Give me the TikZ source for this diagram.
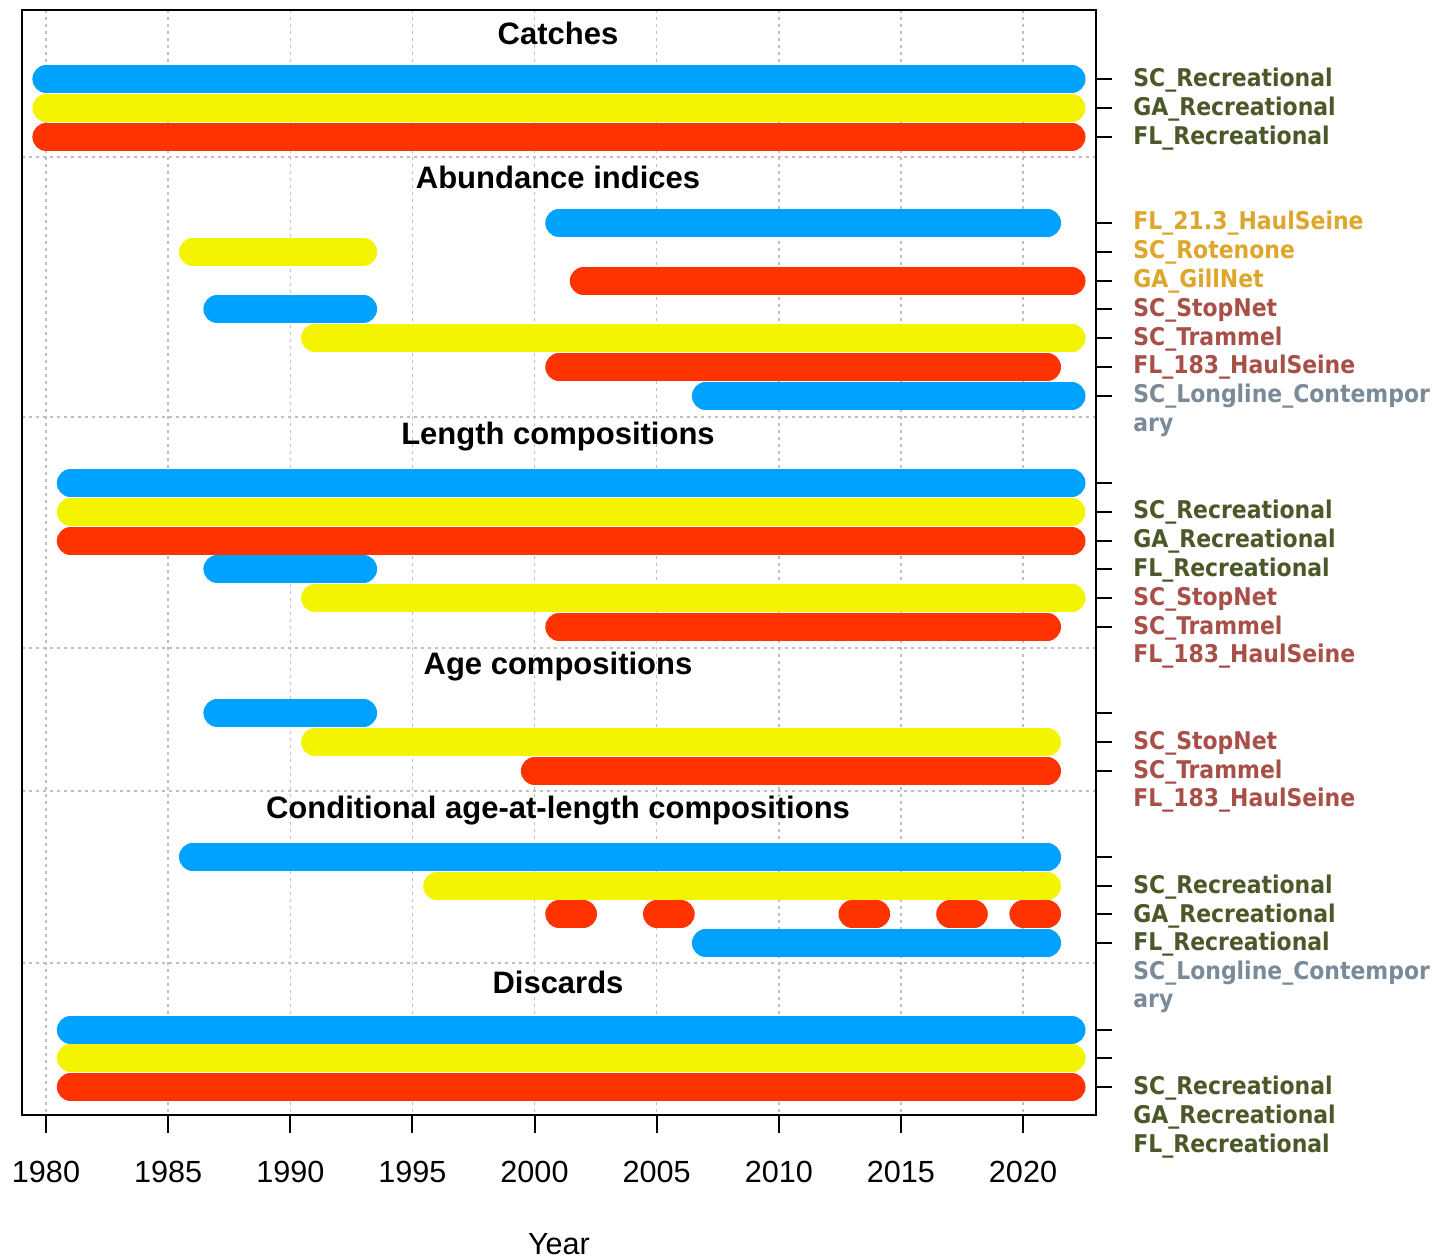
\documentclass[tikz,border=0pt]{standalone}
\usepackage{fontspec}
\setmainfont{Liberation Sans}
\newfontfamily\labfont{DejaVu Sans Condensed}
\definecolor{barblue}{RGB}{0,162,255}
\definecolor{baryel}{RGB}{244,244,0}
\definecolor{barred}{RGB}{255,51,0}
\definecolor{olive}{RGB}{76,88,40}
\definecolor{gold}{RGB}{222,166,44}
\definecolor{brick}{RGB}{168,80,72}
\definecolor{slate}{RGB}{122,138,153}

\begin{document}
\begin{tikzpicture}[x=0.5pt, y=-0.5pt,
    bar/.style = {line width=13.6pt, line cap=round},
    blu/.style = {bar, draw=barblue},
    yel/.style = {bar, draw=baryel},
    red/.style = {bar, draw=barred},
    grid/.style = {black!25, line width=0.7pt, dash pattern=on 1.5pt off 2pt},
    ttl/.style = {font=\fontsize{15.5}{18}\selectfont\bfseries, anchor=base, inner sep=0pt},
    lab/.style = {font=\labfont\fontsize{12.2}{14}\selectfont\bfseries, anchor=base west, inner sep=0pt},
    yr/.style = {font=\fontsize{15.3}{17}\selectfont, anchor=base, inner sep=0pt}]
\useasboundingbox (0,0) rectangle (1441,1258);

% grid
\draw[grid] (46,10) -- (46,1115) (168.1,10) -- (168.1,1115) (290.3,10) -- (290.3,1115)
  (412.4,10) -- (412.4,1115) (534.5,10) -- (534.5,1115) (656.6,10) -- (656.6,1115)
  (778.8,10) -- (778.8,1115) (900.9,10) -- (900.9,1115) (1023,10) -- (1023,1115);
\draw[grid] (22,157) -- (1096,157) (22,417) -- (1096,417) (22,648) -- (1096,648)
  (22,791) -- (1096,791) (22,963) -- (1096,963);

% catches
\draw[blu] (46,79) -- (1071.9,79);
\draw[yel] (46,108) -- (1071.9,108);
\draw[red] (46,137) -- (1071.9,137);
% abundance indices
\draw[blu] (558.9,223) -- (1047.4,223);
\draw[yel] (192.6,252) -- (363.5,252);
\draw[red] (583.4,281) -- (1071.9,281);
\draw[blu] (217,309) -- (363.5,309);
\draw[yel] (314.7,338) -- (1071.9,338);
\draw[red] (558.9,367) -- (1047.4,367);
\draw[blu] (705.5,396) -- (1071.9,396);
% length compositions
\draw[blu] (70.4,483) -- (1071.9,483);
\draw[yel] (70.4,512) -- (1071.9,512);
\draw[red] (70.4,541) -- (1071.9,541);
\draw[blu] (217,569) -- (363.5,569);
\draw[yel] (314.7,598) -- (1071.9,598);
\draw[red] (558.9,627) -- (1047.4,627);
% age compositions
\draw[blu] (217,713) -- (363.5,713);
\draw[yel] (314.7,742) -- (1047.4,742);
\draw[red] (534.5,771) -- (1047.4,771);
% conditional age-at-length
\draw[blu] (192.6,857) -- (1047.4,857);
\draw[yel] (436.8,886) -- (1047.4,886);
\draw[red] (558.9,914) -- (583.4,914);
\draw[red] (656.6,914) -- (681.1,914);
\draw[red] (852.1,914) -- (876.5,914);
\draw[red] (949.8,914) -- (974.2,914);
\draw[red] (1023,914) -- (1047.4,914);
\draw[blu] (705.5,943) -- (1047.4,943);
% discards
\draw[blu] (70.4,1030) -- (1071.9,1030);
\draw[yel] (70.4,1058) -- (1071.9,1058);
\draw[red] (70.4,1087) -- (1071.9,1087);

% frame and ticks
\draw[line width=1pt] (22,10) rectangle (1096,1115);
\draw[line width=1pt] (1096,79) -- (1112,79) (1096,108) -- (1112,108) (1096,137) -- (1112,137)
  (1096,223) -- (1112,223) (1096,252) -- (1112,252) (1096,281) -- (1112,281)
  (1096,309) -- (1112,309) (1096,338) -- (1112,338) (1096,367) -- (1112,367)
  (1096,396) -- (1112,396) (1096,483) -- (1112,483) (1096,512) -- (1112,512)
  (1096,541) -- (1112,541) (1096,569) -- (1112,569) (1096,598) -- (1112,598)
  (1096,627) -- (1112,627) (1096,713) -- (1112,713) (1096,742) -- (1112,742)
  (1096,771) -- (1112,771) (1096,857) -- (1112,857) (1096,886) -- (1112,886)
  (1096,914) -- (1112,914) (1096,943) -- (1112,943) (1096,1030) -- (1112,1030)
  (1096,1058) -- (1112,1058) (1096,1087) -- (1112,1087);
\draw[line width=1pt] (46,1115) -- (46,1133) (168.1,1115) -- (168.1,1133)
  (290.3,1115) -- (290.3,1133) (412.4,1115) -- (412.4,1133) (534.5,1115) -- (534.5,1133)
  (656.6,1115) -- (656.6,1133) (778.8,1115) -- (778.8,1133) (900.9,1115) -- (900.9,1133)
  (1023,1115) -- (1023,1133);

% section titles
\node[ttl] (catch) at (558,44) {Catches};
\node[ttl] (abund) at (558,188) {Abundance indices};
\node[ttl] (lencomp) at (558,444) {Length compositions};
\node[ttl] (agecomp) at (558,674) {Age compositions};
\node[ttl] (caal) at (558,818) {Conditional age-at-length compositions};
\node[ttl] (disc) at (558,993) {Discards};

% fleet labels
\node[lab, olive] (c1) at (1133,86.5) {SC\_Recreational};
\node[lab, olive] (c2) at (1133,115.5) {GA\_Recreational};
\node[lab, olive] (c3) at (1133,144.5) {FL\_Recreational};
\node[lab, gold] (a1) at (1133,229.5) {FL\_21.3\_HaulSeine};
\node[lab, gold] (a2) at (1133,258.5) {SC\_Rotenone};
\node[lab, gold] (a3) at (1133,287.5) {GA\_GillNet};
\node[lab, brick] (a4) at (1133,316.5) {SC\_StopNet};
\node[lab, brick] (a5) at (1133,345.5) {SC\_Trammel};
\node[lab, brick] (a6) at (1133,373.5) {FL\_183\_HaulSeine};
\node[lab, slate] (a7) at (1133,402.5) {SC\_Longline\_Contempor};
\node[lab, slate] (a7b) at (1133,431.5) {ary};
\node[lab, olive] (l1) at (1133,518.5) {SC\_Recreational};
\node[lab, olive] (l2) at (1133,547.5) {GA\_Recreational};
\node[lab, olive] (l3) at (1133,576.5) {FL\_Recreational};
\node[lab, brick] (l4) at (1133,605.5) {SC\_StopNet};
\node[lab, brick] (l5) at (1133,634.5) {SC\_Trammel};
\node[lab, brick] (l6) at (1133,662.5) {FL\_183\_HaulSeine};
\node[lab, brick] (g1) at (1133,749.5) {SC\_StopNet};
\node[lab, brick] (g2) at (1133,778.5) {SC\_Trammel};
\node[lab, brick] (g3) at (1133,806.5) {FL\_183\_HaulSeine};
\node[lab, olive] (k1) at (1133,893.5) {SC\_Recreational};
\node[lab, olive] (k2) at (1133,922.5) {GA\_Recreational};
\node[lab, olive] (k3) at (1133,950.5) {FL\_Recreational};
\node[lab, slate] (k4) at (1133,979.5) {SC\_Longline\_Contempor};
\node[lab, slate] (k4b) at (1133,1007.5) {ary};
\node[lab, olive] (d1) at (1133,1094.5) {SC\_Recreational};
\node[lab, olive] (d2) at (1133,1123.5) {GA\_Recreational};
\node[lab, olive] (d3) at (1133,1152.5) {FL\_Recreational};

% year axis
\node[yr] (y1980) at (46,1182) {1980};
\node[yr] (y1985) at (168.1,1182) {1985};
\node[yr] (y1990) at (290.3,1182) {1990};
\node[yr] (y1995) at (412.4,1182) {1995};
\node[yr] (y2000) at (534.5,1182) {2000};
\node[yr] (y2005) at (656.6,1182) {2005};
\node[yr] (y2010) at (778.8,1182) {2010};
\node[yr] (y2015) at (900.9,1182) {2015};
\node[yr] (y2020) at (1023,1182) {2020};
\node[yr, font=\fontsize{15.3}{17}\selectfont] (xlab) at (559,1254) {Year};
\end{tikzpicture}
\end{document}
